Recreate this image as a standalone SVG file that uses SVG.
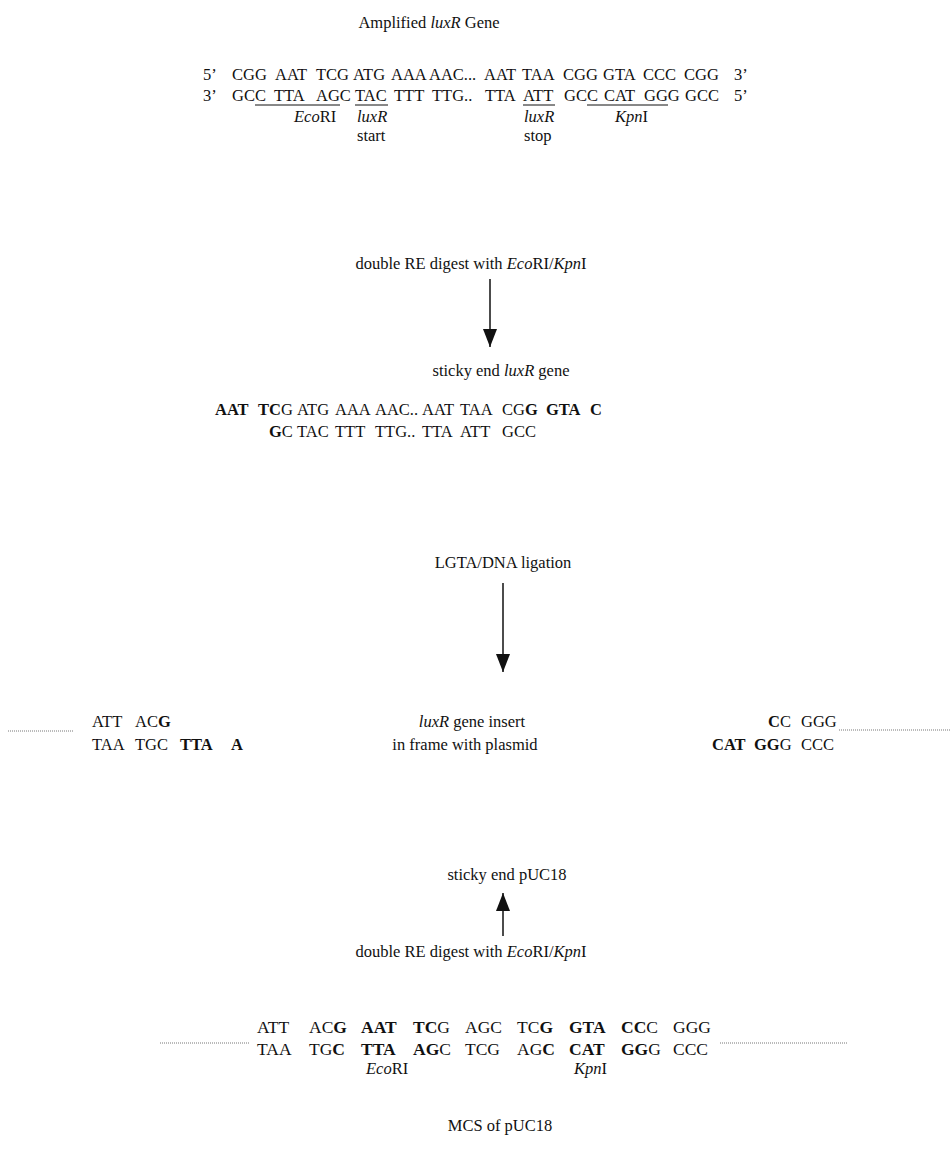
<svg xmlns="http://www.w3.org/2000/svg" width="951" height="1162" viewBox="0 0 951 1162">
<defs>
<style>
text { font-family: "Liberation Serif", "Times New Roman", serif; font-size: 16.5px; fill: #111; }
.b { font-weight: bold; }
.i { font-style: italic; }
.c { text-anchor: middle; }
.m { font-size: 17.5px; }
.ul { stroke: #111; stroke-width: 1; }
.dot { stroke: #777; stroke-width: 1; stroke-dasharray: 1 1; fill: none; }
.arr { stroke: #111; stroke-width: 1.5; fill: none; marker-end: url(#ah); }
</style>
<marker id="ah" markerUnits="userSpaceOnUse" markerWidth="18" markerHeight="14" viewBox="0 0 18 14" refX="18" refY="7" orient="auto">
<path d="M0,0 L18,7 L0,14 Z" fill="#111"/>
</marker>
</defs>
<rect width="951" height="1162" fill="#fff"/>

<g id="amplified-gene">
<text class="c" x="429" y="28">Amplified <tspan class="i">luxR</tspan> Gene</text>
<text y="80"><tspan x="203">5’</tspan><tspan x="232">CGG</tspan><tspan x="275">AAT</tspan><tspan x="316">TCG</tspan><tspan x="353">ATG</tspan><tspan x="391">AAA</tspan><tspan x="429">AAC...</tspan><tspan x="484">AAT</tspan><tspan x="522">TAA</tspan><tspan x="563">CGG</tspan><tspan x="603">GTA</tspan><tspan x="643">CCC</tspan><tspan x="684">CGG</tspan><tspan x="734">3’</tspan></text>
<text y="101"><tspan x="203">3’</tspan><tspan x="232">GCC</tspan><tspan x="274">TTA</tspan><tspan x="316">AGC</tspan><tspan x="355">TAC</tspan><tspan x="394">TTT</tspan><tspan x="432">TTG..</tspan><tspan x="485">TTA</tspan><tspan x="523">ATT</tspan><tspan x="564">GCC</tspan><tspan x="604">CAT</tspan><tspan x="644">GGG</tspan><tspan x="685">GCC</tspan><tspan x="734">5’</tspan></text>
<line class="ul" x1="255" y1="105" x2="340" y2="105"/>
<line class="ul" x1="355" y1="105" x2="388" y2="105"/>
<line class="ul" x1="523" y1="105" x2="555" y2="105"/>
<line class="ul" x1="587" y1="105" x2="668" y2="105"/>
<text y="122"><tspan x="294" class="i">Eco</tspan>RI</text>
<text y="122" x="357" class="i">luxR</text>
<text y="122" x="524" class="i">luxR</text>
<text y="122"><tspan x="615" class="i">Kpn</tspan>I</text>
<text y="141" x="357">start</text>
<text y="141" x="524">stop</text>
</g>

<g id="digest-1">
<text class="c" x="471" y="269">double RE digest with <tspan class="i">Eco</tspan>RI/<tspan class="i">Kpn</tspan>I</text>
</g>

<g id="sticky-end-luxR">
<text class="c" x="501" y="376">sticky end <tspan class="i">luxR</tspan> gene</text>
<text y="415"><tspan x="215" class="b">AAT</tspan><tspan x="258" class="b">TC</tspan><tspan>G</tspan><tspan x="297">ATG</tspan><tspan x="335">AAA</tspan><tspan x="375">AAC..</tspan><tspan x="422">AAT</tspan><tspan x="460">TAA</tspan><tspan x="502">CG</tspan><tspan class="b">G</tspan><tspan x="546" class="b">GTA</tspan><tspan x="590" class="b">C</tspan></text>
<text y="437"><tspan x="269" class="b">G</tspan><tspan>C</tspan><tspan x="297">TAC</tspan><tspan x="335">TTT</tspan><tspan x="375">TTG..</tspan><tspan x="422">TTA</tspan><tspan x="460">ATT</tspan><tspan x="502">GCC</tspan></text>
</g>

<g id="ligation">
<text class="c" x="503" y="568">LGTA/DNA ligation</text>
</g>

<g id="ligation-product">
<line class="dot" x1="8" y1="731" x2="74" y2="731"/>
<text y="727"><tspan x="92">ATT</tspan><tspan x="135">AC</tspan><tspan class="b">G</tspan></text>
<text y="750"><tspan x="92">TAA</tspan><tspan x="135">TGC</tspan><tspan x="180" class="b">TTA</tspan><tspan x="231" class="b">A</tspan></text>
<text class="c" x="472" y="727"><tspan class="i">luxR</tspan> gene insert</text>
<text class="c" x="465" y="750">in frame with plasmid</text>
<text y="727"><tspan x="768" class="b">C</tspan><tspan>C</tspan><tspan x="801">GGG</tspan></text>
<text y="750"><tspan x="712" class="b">CAT</tspan><tspan x="754" class="b">GG</tspan><tspan>G</tspan><tspan x="801">CCC</tspan></text>
<line class="dot" x1="839" y1="730" x2="951" y2="730"/>
</g>

<g id="sticky-end-pUC18">
<text class="c" x="507" y="880">sticky end pUC18</text>
</g>

<g id="digest-2">
<text class="c" x="471" y="957">double RE digest with <tspan class="i">Eco</tspan>RI/<tspan class="i">Kpn</tspan>I</text>
</g>

<g id="mcs-pUC18">
<text class="m" y="1033"><tspan x="257">ATT</tspan><tspan x="309">AC</tspan><tspan class="b">G</tspan><tspan x="361" class="b">AAT</tspan><tspan x="413" class="b">TC</tspan><tspan>G</tspan><tspan x="465">AGC</tspan><tspan x="517">TC</tspan><tspan class="b">G</tspan><tspan x="569" class="b">GTA</tspan><tspan x="621" class="b">CC</tspan><tspan>C</tspan><tspan x="673">GGG</tspan></text>
<text class="m" y="1055"><tspan x="257">TAA</tspan><tspan x="309">TG</tspan><tspan class="b">C</tspan><tspan x="361" class="b">TTA</tspan><tspan x="413" class="b">AG</tspan><tspan>C</tspan><tspan x="465">TCG</tspan><tspan x="517">AG</tspan><tspan class="b">C</tspan><tspan x="569" class="b">CAT</tspan><tspan x="621" class="b">GG</tspan><tspan>G</tspan><tspan x="673">CCC</tspan></text>
<line class="dot" x1="160" y1="1043" x2="249" y2="1043"/>
<line class="dot" x1="720" y1="1043" x2="848" y2="1043"/>
<text y="1074"><tspan x="366" class="i">Eco</tspan>RI</text>
<text y="1074"><tspan x="574" class="i">Kpn</tspan>I</text>
<text class="c" x="500" y="1131">MCS of pUC18</text>
</g>

<g id="connectors">
<line class="arr" x1="490" y1="279" x2="490" y2="347"/>
<line class="arr" x1="503" y1="583" x2="503" y2="672"/>
<line class="arr" x1="503" y1="936" x2="503" y2="893"/>
</g>
</svg>
